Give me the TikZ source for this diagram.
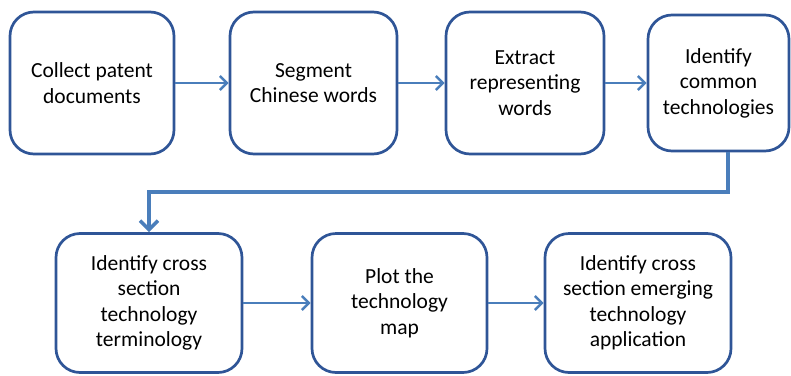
\documentclass[tikz,border=0pt]{standalone}
\usepackage{fontspec}
\setmainfont{Carlito}
\usetikzlibrary{arrows.meta}
\definecolor{boxblue}{RGB}{47,85,151}
\definecolor{linkblue}{RGB}{74,126,187}
\tikzset{
  stepbox/.style={draw=boxblue, line width=2.7pt, rounded corners=24pt, align=center,
    font=\fontsize{21.5}{25.5}\selectfont, fill=white, inner sep=2pt},
  link/.style={draw=linkblue, line width=2.5pt, -{Straight Barb[length=7pt,width=14pt]}}
}

\begin{document}
\begin{tikzpicture}[x=1pt,y=-1pt]
\useasboundingbox (0,0) rectangle (791,375);
% first row
\node[stepbox, minimum width=164pt, minimum height=142pt] (collect) at (92,83) {Collect patent\\documents};
\node[stepbox, minimum width=167pt, minimum height=142pt] (segment) at (313.5,83) {Segment\\Chinese words};
\node[stepbox, minimum width=158pt, minimum height=142pt] (extract) at (525,83) {Extract\\representing\\words};
\node[stepbox, minimum width=141pt, minimum height=136pt] (common) at (718.5,83) {Identify\\common\\technologies};
% second row
\node[stepbox, minimum width=186pt, minimum height=139pt] (cross) at (149,303) {Identify cross\\section\\technology\\terminology};
\node[stepbox, minimum width=175pt, minimum height=139pt] (plot) at (399.5,303) {Plot the\\technology\\map};
\node[stepbox, minimum width=186pt, minimum height=139pt] (emerging) at (638,303) {Identify cross\\section emerging\\technology\\application};
\coordinate (turnR) at (728,192);
\coordinate (turnL) at (149,192);
\draw[link] (collect) -- (segment);
\draw[link] (segment) -- (extract);
\draw[link] (extract) -- (common);
\draw[link, line width=3.5pt, -{Straight Barb[length=9pt,width=18pt]}] (common.south -| turnR) -- (turnR) -- (turnL) -- (cross.north);
\draw[link] (cross) -- (plot);
\draw[link] (plot) -- (emerging);
\end{tikzpicture}
\end{document}
